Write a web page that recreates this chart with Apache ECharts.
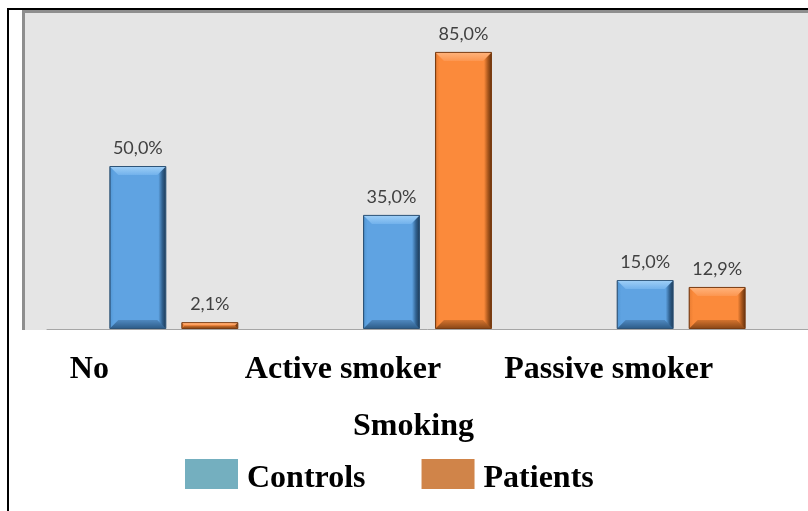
<!DOCTYPE html>
<html>
<head>
<meta charset="utf-8">
<script src="https://cdn.jsdelivr.net/npm/echarts@6/dist/echarts.min.js"></script>
<style>
  html, body { margin: 0; padding: 0; background: #ffffff; }
  #chart { width: 808px; height: 511px; }
</style>
</head>
<body>
<div id="chart"></div>
<script>
// Smoking status, share of each group (%)
const categories = ['No', 'Active smoker', 'Passive smoker'];
const controls = [50.0, 35.0, 15.0];
const patients = [2.1, 85.0, 12.9];
const seriesNames = ['Controls', 'Patients'];
const axisTitle = 'Smoking';

const fmtPct = v => v.toFixed(1).replace('.', ',') + '%';

const BAR_W = 57;
const BAR_GAP = 15;
const SERIF = '"Liberation Serif", "Times New Roman", serif';

function barFill(main, leftEdge, dark, edge) {
  return new echarts.graphic.LinearGradient(0, 0, 1, 0, [
    { offset: 0, color: edge },
    { offset: 0.03, color: leftEdge },
    { offset: 0.08, color: main },
    { offset: 0.86, color: main },
    { offset: 0.93, color: dark },
    { offset: 1, color: edge }
  ]);
}

// Bevel faces (top highlight, bottom shade) drawn over each bar
function bevelSeries(values, side, topColor, bottomColor) {
  return {
    type: 'custom',
    z: 3,
    silent: true,
    data: values.map((v, i) => [i, v]),
    renderItem: (params, api) => {
      const base = api.coord([api.value(0), 0]);
      const top = api.coord([api.value(0), api.value(1)]);
      const cx = base[0] + side * (BAR_W + BAR_GAP) / 2;
      const x0 = cx - BAR_W / 2 + 1, x1 = cx + BAR_W / 2 - 1;
      const y0 = top[1] + 1, y1 = base[1] - 1;
      const b = Math.min(8, (y1 - y0) / 2);
      return {
        type: 'group',
        children: [
          {
            type: 'polygon',
            shape: { points: [[x0, y0], [x1, y0], [x1 - b, y0 + b], [x0 + b, y0 + b]] },
            style: { fill: new echarts.graphic.LinearGradient(0, 0, 0, 1, [
              { offset: 0, color: topColor[0] }, { offset: 1, color: topColor[1] }]) }
          },
          {
            type: 'polygon',
            shape: { points: [[x0, y1], [x1, y1], [x1 - b, y1 - b], [x0 + b, y1 - b]] },
            style: { fill: new echarts.graphic.LinearGradient(0, 0, 0, 1, [
              { offset: 0, color: bottomColor[0] }, { offset: 1, color: bottomColor[1] }]) }
          }
        ]
      };
    }
  };
}

const chart = echarts.init(document.getElementById('chart'), null, { renderer: 'canvas' });

const valueLabel = {
  show: true,
  position: 'top',
  distance: 9,
  fontFamily: 'Lato, "Open Sans", sans-serif',
  fontSize: 18,
  color: '#404040',
  formatter: p => fmtPct(p.value)
};

const boldSerif = { fontFamily: SERIF, fontWeight: 'bold', fontSize: 32, color: '#000' };
const richCat = pad => Object.assign({ padding: [0, pad, 0, 0] }, boldSerif);

chart.setOption({
  animation: false,
  backgroundColor: '#ffffff',
  graphic: [
    { type: 'rect', z: -10, shape: { x: 22, y: 10, width: 786, height: 320 }, style: { fill: '#e5e5e5' } },
    { type: 'rect', z: -9, shape: { x: 22, y: 10, width: 786, height: 3 }, style: { fill: '#8e8e8e' } },
    { type: 'rect', z: -9, shape: { x: 22, y: 10, width: 3, height: 320 }, style: { fill: '#8e8e8e' } },
    { type: 'rect', z: -8, shape: { x: 7, y: 8, width: 801, height: 2 }, style: { fill: '#000000' } },
    { type: 'rect', z: -8, shape: { x: 7, y: 8, width: 2, height: 503 }, style: { fill: '#000000' } }
  ],
  grid: { left: 47, right: 0, top: 3, bottom: 182, containLabel: false },
  legend: {
    left: 185,
    top: 459,
    padding: 0,
    itemWidth: 53,
    itemHeight: 30,
    itemGap: 56,
    icon: 'rect',
    formatter: name => '{t|' + name + '}',
    textStyle: Object.assign({
      rich: { t: Object.assign({ padding: [10, 0, 0, 4] }, boldSerif) }
    }, boldSerif),
    data: [
      { name: seriesNames[0], itemStyle: { color: '#74afbf', borderWidth: 0 } },
      { name: seriesNames[1], itemStyle: { color: '#d08449', borderWidth: 0 } }
    ]
  },
  xAxis: {
    type: 'category',
    data: categories,
    name: axisTitle,
    nameLocation: 'middle',
    nameGap: 82,
    nameTextStyle: Object.assign({ padding: [0, 28, 0, 0] }, boldSerif),
    axisLine: { show: true, lineStyle: { color: '#a6a6a6', width: 1 } },
    axisTick: { show: false },
    axisLabel: Object.assign({
      interval: 0,
      margin: 25,
      formatter: (v, i) => '{c' + i + '|' + v + '}',
      rich: { c0: richCat(169), c1: richCat(169), c2: richCat(145) }
    }, boldSerif)
  },
  yAxis: {
    type: 'value',
    min: 0,
    max: 100,
    show: false,
    splitLine: { show: false }
  },
  series: [
    {
      name: seriesNames[0],
      type: 'bar',
      data: controls,
      barWidth: BAR_W,
      barGap: (BAR_GAP / BAR_W * 100).toFixed(1) + '%',
      itemStyle: {
        color: barFill('#5fa3e2', '#559ad8', '#30608e', '#1c3752'),
        borderColor: '#2e5478',
        borderWidth: 1
      },
      label: valueLabel
    },
    {
      name: seriesNames[1],
      type: 'bar',
      data: patients,
      barWidth: BAR_W,
      barGap: (BAR_GAP / BAR_W * 100).toFixed(1) + '%',
      itemStyle: {
        color: barFill('#fb8a3b', '#ee8034', '#a8561c', '#5e2e0c'),
        borderColor: '#7a3c12',
        borderWidth: 1
      },
      label: valueLabel
    },
    bevelSeries(controls, -1, ['#9ccdf6', '#72b2ec'], ['#4f88bf', '#2f5f8c']),
    bevelSeries(patients, 1, ['#ffb27a', '#fc9650'], ['#d4732e', '#8f4a18'])
  ]
});
</script>
</body>
</html>
